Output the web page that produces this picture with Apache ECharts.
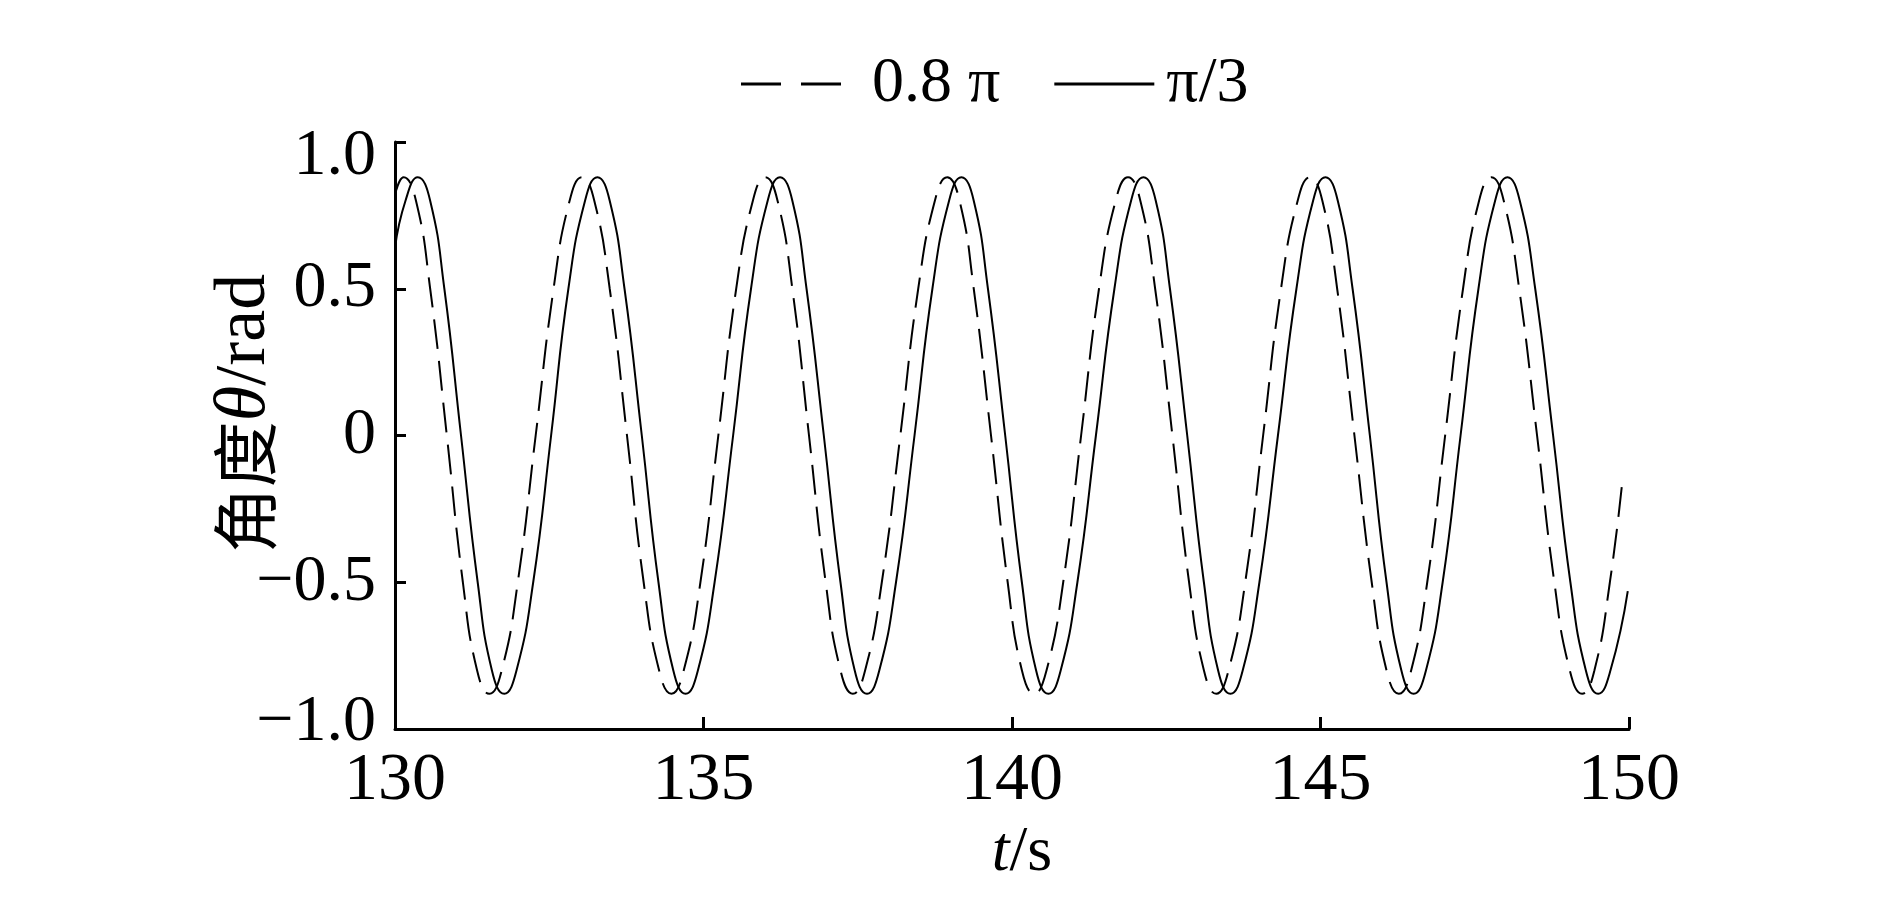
<!DOCTYPE html>
<html>
<head>
<meta charset="utf-8">
<script src="https://cdn.jsdelivr.net/npm/echarts@6/dist/echarts.min.js"></script>
<style>
  html, body { margin: 0; padding: 0; background: #fff; }
  #chart { width: 1890px; height: 898px; }
</style>
</head>
<body>
<div id="chart"></div>
<script>
  // 读图得到的点：峰/谷、±0.8、±0.5、零点
  var tDashed = [130.00, 130.14, 130.34, 130.57, 130.84, 131.10, 131.33, 131.53, 131.73, 131.99, 132.28, 132.57, 132.83,
                 133.03, 133.23, 133.48, 133.76, 134.03, 134.28, 134.48, 134.68, 134.95, 135.24, 135.53, 135.80,
                 136.00, 136.20, 136.44, 136.71, 136.98, 137.22, 137.42, 137.62, 137.89, 138.19, 138.48, 138.75,
                 138.95, 139.15, 139.38, 139.66, 139.93, 140.16, 140.36, 140.56, 140.83, 141.12, 141.41, 141.68,
                 141.88, 142.08, 142.32, 142.60, 142.87, 143.11, 143.31, 143.51, 143.78, 144.07, 144.36, 144.63,
                 144.83, 145.03, 145.27, 145.55, 145.83, 146.07, 146.27, 146.47, 146.73, 147.02, 147.31, 147.57,
                 147.77, 147.97, 148.22, 148.51, 148.79, 149.04, 149.24, 149.44, 149.69, 149.90]
  var yDashed = [0.82, 0.88, 0.80, 0.5, 0, -0.5, -0.80, -0.88, -0.80, -0.5, 0, 0.5, 0.80,
                 0.88, 0.80, 0.5, 0, -0.5, -0.80, -0.88, -0.80, -0.5, 0, 0.5, 0.80,
                 0.88, 0.80, 0.5, 0, -0.5, -0.80, -0.88, -0.80, -0.5, 0, 0.5, 0.80,
                 0.88, 0.80, 0.5, 0, -0.5, -0.80, -0.88, -0.80, -0.5, 0, 0.5, 0.80,
                 0.88, 0.80, 0.5, 0, -0.5, -0.80, -0.88, -0.80, -0.5, 0, 0.5, 0.80,
                 0.88, 0.80, 0.5, 0, -0.5, -0.80, -0.88, -0.80, -0.5, 0, 0.5, 0.80,
                 0.88, 0.80, 0.5, 0, -0.5, -0.80, -0.88, -0.80, -0.5, -0.14]

  var tSolid = [130.00, 130.17, 130.37, 130.57, 130.80, 131.07, 131.34, 131.57, 131.77, 131.97, 132.24, 132.53, 132.81, 133.08,
                133.28, 133.48, 133.72, 134.00, 134.27, 134.51, 134.71, 134.91, 135.18, 135.48, 135.77, 136.04,
                136.24, 136.44, 136.67, 136.95, 137.22, 137.45, 137.65, 137.85, 138.12, 138.42, 138.71, 138.98,
                139.18, 139.38, 139.61, 139.89, 140.16, 140.39, 140.59, 140.79, 141.06, 141.36, 141.66, 141.93,
                142.13, 142.33, 142.56, 142.84, 143.11, 143.34, 143.54, 143.74, 144.01, 144.31, 144.61, 144.88,
                145.08, 145.28, 145.52, 145.80, 146.07, 146.31, 146.51, 146.71, 146.98, 147.27, 147.56, 147.83,
                148.03, 148.23, 148.48, 148.77, 149.05, 149.30, 149.50, 149.70, 149.98]
  var ySolid = [0.64, 0.80, 0.88, 0.80, 0.5, 0, -0.5, -0.80, -0.88, -0.80, -0.5, 0, 0.5, 0.80,
                0.88, 0.80, 0.5, 0, -0.5, -0.80, -0.88, -0.80, -0.5, 0, 0.5, 0.80,
                0.88, 0.80, 0.5, 0, -0.5, -0.80, -0.88, -0.80, -0.5, 0, 0.5, 0.80,
                0.88, 0.80, 0.5, 0, -0.5, -0.80, -0.88, -0.80, -0.5, 0, 0.5, 0.80,
                0.88, 0.80, 0.5, 0, -0.5, -0.80, -0.88, -0.80, -0.5, 0, 0.5, 0.80,
                0.88, 0.80, 0.5, 0, -0.5, -0.80, -0.88, -0.80, -0.5, 0, 0.5, 0.80,
                0.88, 0.80, 0.5, 0, -0.5, -0.80, -0.88, -0.80, -0.53]

  var seriesNames = ['0.8 π', 'π/3']
  var xTicks = [130, 135, 140, 145, 150]
  var yTickLabels = {'1': '1.0', '0.5': '0.5', '0': '0', '-0.5': '\u22120.5', '-1': '\u22121.0'}

  function zip(ts, ys) {
    var out = []
    for (var i = 0; i < ts.length; i++) out.push([ts[i], ys[i]])
    return out
  }

  var serif = "'Liberation Serif', 'Times New Roman', serif"
  var cjk = "'Noto Sans CJK SC', sans-serif"

  var chart = echarts.init(document.getElementById('chart'))
  var option = {
    animation: false,
    backgroundColor: '#ffffff',
    color: ['#000', '#000'],
    grid: { left: 395, right: 261, top: 142, bottom: 169, containLabel: false },
    legend: {
      left: 741,
      top: 52,
      padding: 0,
      itemGap: 54,
      itemWidth: 100,
      itemHeight: 3,
      textStyle: { fontFamily: serif, fontSize: 64, color: '#000', padding: [0, 0, 0, 7] },
      data: [
        {
          name: seriesNames[0],
          icon: 'path://M0,0h40v3h-40z M60,0h40v3h-40z',
          itemStyle: { color: '#000' },
          textStyle: { padding: [0, 0, 0, 26] }
        },
        {
          name: seriesNames[1],
          icon: 'path://M0,0h100v3h-100z',
          itemStyle: { color: '#000' }
        }
      ]
    },
    xAxis: {
      type: 'value',
      min: xTicks[0],
      max: xTicks[xTicks.length - 1],
      interval: 5,
      name: '{i|t}{n|/s}',
      nameLocation: 'middle',
      nameGap: 92,
      nameMoveOverlap: false,
      nameTextStyle: {
        padding: [0, 0, 0, 20],
        rich: {
          i: { fontFamily: serif, fontStyle: 'italic', fontSize: 64, color: '#000' },
          n: { fontFamily: serif, fontSize: 64, color: '#000' }
        }
      },
      axisLine: { show: true, onZero: false, lineStyle: { color: '#000', width: 3 } },
      axisTick: { show: true, inside: true, length: 12, lineStyle: { color: '#000', width: 3 } },
      axisLabel: { fontFamily: serif, fontSize: 68, color: '#000', margin: 18 },
      splitLine: { show: false }
    },
    yAxis: {
      type: 'value',
      min: -1,
      max: 1,
      interval: 0.5,
      name: '{c|角度}{i|θ}{n|/rad}',
      nameLocation: 'middle',
      nameGap: 114,
      nameMoveOverlap: false,
      nameRotate: 90,
      nameTextStyle: {
        padding: [0, 0, 0, 44],
        rich: {
          c: { fontFamily: cjk, fontSize: 66, color: '#000' },
          i: { fontFamily: serif, fontStyle: 'italic', fontSize: 72, color: '#000' },
          n: { fontFamily: serif, fontSize: 72, color: '#000' }
        }
      },
      axisLine: { show: true, onZero: false, lineStyle: { color: '#000', width: 3 } },
      axisTick: { show: true, inside: true, length: 11, lineStyle: { color: '#000', width: 3 } },
      axisLabel: {
        fontFamily: serif, fontSize: 66, color: '#000', margin: 19,
        formatter: function (v) {
          var s = yTickLabels[String(v)]
          if (v === 1) return '{top|' + s + '}'
          if (v === -1) return '{bot|' + s + '}'
          return s
        },
        rich: {
          top: { fontFamily: serif, fontSize: 66, color: '#000', padding: [30, 0, 0, 0] },
          bot: { fontFamily: serif, fontSize: 66, color: '#000', padding: [0, 0, 12, 0] }
        }
      },
      splitLine: { show: false }
    },
    series: [
      {
        name: seriesNames[0],
        type: 'line',
        data: zip(tDashed, yDashed),
        smooth: 0.5,
        showSymbol: false,
        symbol: 'none',
        itemStyle: { color: '#000' },
        lineStyle: { color: '#000', width: 2, type: [30, 12] }
      },
      {
        name: seriesNames[1],
        type: 'line',
        data: zip(tSolid, ySolid),
        smooth: 0.5,
        showSymbol: false,
        symbol: 'none',
        itemStyle: { color: '#000' },
        lineStyle: { color: '#000', width: 2, type: 'solid' }
      }
    ]
  }
  chart.setOption(option)
</script>
</body>
</html>
